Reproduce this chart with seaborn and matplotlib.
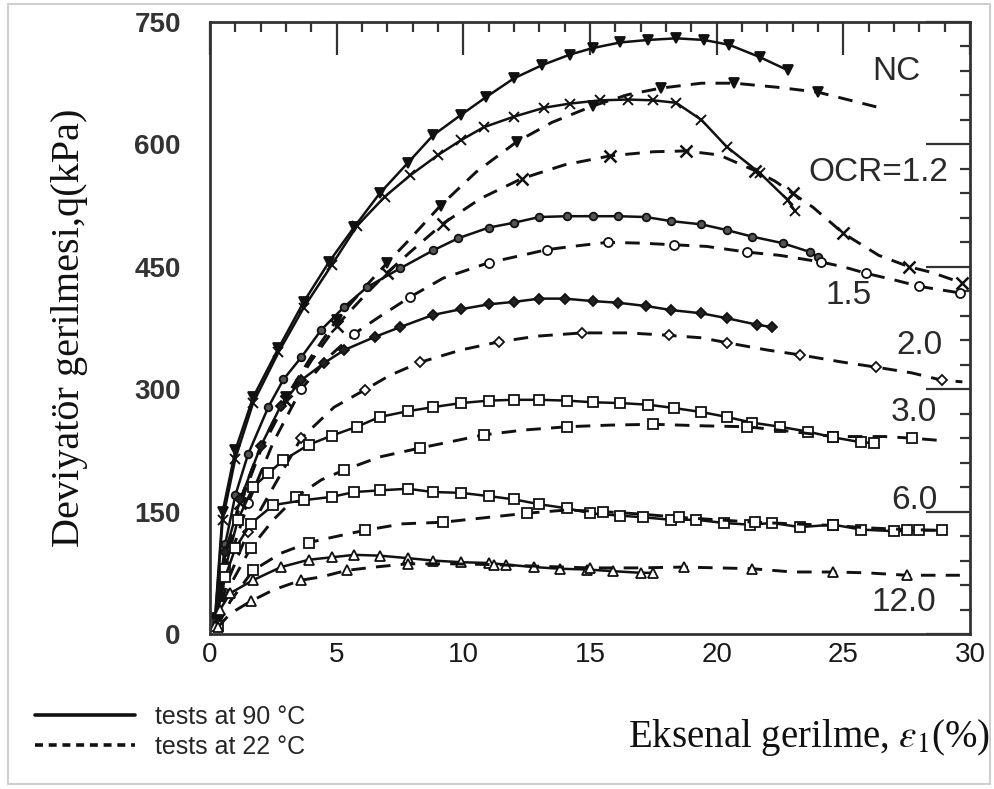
import matplotlib
matplotlib.use("Agg")
import matplotlib.pyplot as plt
from matplotlib.lines import Line2D
from matplotlib.patches import Rectangle
from matplotlib.ticker import MultipleLocator
import seaborn as sns
import pandas as pd

# ---- data: axial strain (%) and deviator stress q (kPa) ----
nc_90_strain = [0.2, 0.5, 1.0, 1.7, 2.7, 3.7, 4.7, 5.7, 6.7, 7.8, 8.8, 9.9, 10.9, 12.0, 13.1,
                14.2, 15.1, 16.2, 17.3, 18.4, 19.5, 20.5, 21.7, 22.8]
nc_90_q = [20, 150, 225, 290, 350, 407, 456, 499, 540, 577, 611, 636, 658, 681, 697,
           710, 718, 725, 728, 730, 728, 722, 707, 691]

nc_22_strain = [0.2, 0.6, 1.2, 2.0, 3.0, 4.0, 5.0, 6.2, 7.0, 7.8, 9.1, 10.5, 12.1, 13.5, 15.1,
                16.5, 17.8, 19.4, 20.7, 22.4, 24.0, 26.3]
nc_22_q = [15, 95, 165, 230, 290, 340, 385, 428, 455, 481, 525, 566, 603, 627, 647,
           661, 669, 675, 675, 670, 664, 646]

ocr12_90_strain = [0.2, 0.5, 1.0, 1.7, 2.7, 3.7, 4.8, 5.8, 6.9, 7.9, 9.0, 9.9, 10.8, 12.0, 13.2,
                   14.2, 15.4, 16.5, 17.5, 18.4, 19.4, 20.4, 21.7, 22.8, 23.1]
ocr12_90_q = [18, 140, 215, 283, 345, 400, 452, 500, 536, 562, 587, 605, 621, 634, 645,
              650, 654, 655, 654, 651, 630, 597, 565, 532, 518]

ocr12_22_strain = [0.2, 0.6, 1.2, 2.0, 3.0, 4.0, 5.0, 6.2, 7.0, 7.9, 9.2, 10.7, 12.3, 14.0, 15.8,
                   17.5, 18.8, 20.1, 21.5, 22.3, 23.0, 23.8, 25.0, 26.4, 27.6, 28.5, 29.7]
ocr12_22_q = [15, 90, 160, 225, 285, 335, 378, 418, 443, 468, 503, 534, 558, 575, 586,
              591, 592, 587, 568, 555, 540, 523, 491, 464, 450, 443, 430]

ocr15_90_strain = [0.2, 0.6, 1.0, 1.5, 2.3, 2.9, 3.6, 4.4, 5.3, 6.2, 7.5, 8.8, 9.8, 11.0, 12.0,
                   13.0, 14.1, 15.1, 16.1, 17.2, 18.2, 19.4, 20.4, 21.4, 22.6, 23.7, 24.0]
ocr15_90_q = [15, 110, 170, 220, 278, 312, 339, 373, 401, 425, 448, 470, 485, 498, 504,
              511, 512, 512, 512, 511, 506, 502, 495, 487, 479, 468, 462]

ocr15_22_strain = [0.2, 0.7, 1.5, 2.5, 3.6, 4.7, 5.7, 6.6, 7.9, 9.2, 11.0, 12.3, 13.3, 14.3, 15.7,
                   17.0, 18.3, 19.6, 21.2, 22.5, 24.1, 25.0, 25.9, 27.0, 28.0, 28.8, 29.6]
ocr15_22_q = [12, 85, 160, 235, 300, 340, 368, 387, 413, 436, 455, 464, 471, 475, 480,
              479, 477, 475, 468, 464, 456, 450, 442, 434, 426, 422, 418]

ocr20_90_strain = [0.2, 0.6, 1.2, 2.0, 2.8, 3.6, 4.5, 5.3, 6.5, 7.5, 8.8, 9.9, 11.0, 12.0, 13.0,
                   14.0, 15.1, 16.1, 17.2, 18.2, 19.4, 20.4, 21.6, 22.2]
ocr20_90_q = [15, 100, 165, 230, 280, 311, 332, 348, 364, 376, 391, 398, 404, 407, 411,
              411, 408, 406, 402, 397, 393, 387, 379, 376]

ocr20_22_strain = [0.2, 0.7, 1.5, 2.5, 3.6, 4.9, 6.1, 7.1, 8.3, 9.9, 11.4, 12.9, 14.7, 16.5, 18.1,
                   19.4, 20.4, 22.0, 23.3, 25.0, 26.3, 27.7, 28.9, 29.7]
ocr20_22_q = [10, 65, 125, 180, 240, 278, 299, 317, 333, 348, 358, 365, 369, 369, 366,
              363, 357, 348, 342, 333, 327, 320, 311, 309]

ocr30_90_strain = [0.2, 0.6, 1.1, 1.7, 2.3, 2.9, 3.9, 4.8, 5.8, 6.7, 7.8, 8.8, 9.9, 11.0, 12.0,
                   13.0, 14.1, 15.1, 16.2, 17.3, 18.3, 19.4, 20.4, 21.4, 22.5, 23.6, 24.6, 25.7, 26.2]
ocr30_90_q = [12, 80, 140, 180, 197, 213, 232, 243, 254, 266, 273, 278, 283, 286, 287,
              287, 286, 284, 283, 281, 277, 272, 266, 259, 254, 248, 241, 235, 234]

ocr30_22_strain = [0.2, 0.8, 1.6, 2.5, 3.4, 4.4, 5.3, 6.7, 8.3, 9.4, 10.8, 12.4, 14.1, 15.8, 17.5,
                   19.6, 21.2, 23.0, 24.6, 26.6, 27.7, 28.9]
ocr30_22_q = [10, 60, 105, 140, 168, 189, 201, 217, 228, 235, 244, 250, 254, 256, 257,
              255, 254, 248, 242, 242, 240, 237]

ocr60_90_strain = [0.2, 0.6, 1.0, 1.6, 2.5, 3.7, 4.8, 5.7, 6.7, 7.8, 8.8, 9.9, 11.0, 12.0, 13.0,
                   14.1, 15.0, 16.2, 17.1, 18.2, 19.2, 20.3, 21.3, 22.2, 23.3, 24.6, 25.7, 27.0, 28.0, 28.9]
ocr60_90_q = [12, 70, 105, 135, 158, 164, 168, 174, 176, 178, 174, 173, 169, 165, 159,
              154, 148, 145, 143, 140, 140, 136, 134, 136, 131, 134, 128, 126, 127, 127]

ocr60_22_strain = [0.3, 0.8, 1.7, 2.8, 3.9, 4.9, 6.1, 7.6, 9.2, 11.0, 12.5, 14.1, 15.5, 17.0, 18.5,
                   20.0, 21.5, 23.0, 24.6, 26.0, 27.5, 29.0]
ocr60_22_q = [10, 40, 78, 99, 112, 119, 127, 135, 137, 143, 148, 152, 150, 147, 143,
              140, 137, 135, 133, 130, 128, 127]

ocr120_90_strain = [0.2, 0.4, 0.8, 1.7, 2.8, 3.9, 4.8, 5.7, 6.7, 7.8, 8.8, 9.9, 11.0, 11.7, 12.8,
                    13.8, 14.9, 15.9, 17.0, 17.5]
ocr120_90_q = [10, 30, 50, 66, 82, 91, 94, 97, 96, 93, 90, 88, 87, 85, 82,
               80, 79, 77, 75, 75]

ocr120_22_strain = [0.3, 0.8, 1.6, 2.5, 3.6, 4.4, 5.4, 6.5, 7.8, 9.5, 11.2, 13.0, 15.0, 16.8, 18.7,
                    20.1, 21.4, 23.0, 24.6, 25.9, 27.5, 29.6]
ocr120_22_q = [8, 25, 40, 54, 66, 70, 78, 82, 86, 86, 85, 83, 81, 81, 82,
               81, 80, 76, 76, 75, 72, 72]

# curve labels written next to the right-hand ends
curve_labels = ["NC", "OCR=1.2", "1.5", "2.0", "3.0", "6.0", "12.0"]
label_strain = [27.1, 26.4, 25.2, 28.0, 27.8, 27.8, 27.4]
label_q = [689, 566, 415, 354, 271, 164, 39]

x_ticks = [0, 5, 10, 15, 20, 25, 30]
y_ticks = [0, 150, 300, 450, 600, 750]
x_tick_labels = ["0", "5", "10", "15", "20", "25", "30"]
y_tick_labels = ["0", "150", "300", "450", "600", "750"]
legend_labels = ["tests at 90 °C", "tests at 22 °C"]

# ---- build a long table ----
series = [
    ("NC", 90, nc_90_strain, nc_90_q), ("NC", 22, nc_22_strain, nc_22_q),
    ("1.2", 90, ocr12_90_strain, ocr12_90_q), ("1.2", 22, ocr12_22_strain, ocr12_22_q),
    ("1.5", 90, ocr15_90_strain, ocr15_90_q), ("1.5", 22, ocr15_22_strain, ocr15_22_q),
    ("2.0", 90, ocr20_90_strain, ocr20_90_q), ("2.0", 22, ocr20_22_strain, ocr20_22_q),
    ("3.0", 90, ocr30_90_strain, ocr30_90_q), ("3.0", 22, ocr30_22_strain, ocr30_22_q),
    ("6.0", 90, ocr60_90_strain, ocr60_90_q), ("6.0", 22, ocr60_22_strain, ocr60_22_q),
    ("12.0", 90, ocr120_90_strain, ocr120_90_q), ("12.0", 22, ocr120_22_strain, ocr120_22_q),
]
frames = [pd.DataFrame({"strain": s, "q": q, "ocr": o, "temp": t}) for o, t, s, q in series]
df = pd.concat(frames, ignore_index=True)

# marker style per (OCR, temperature)
marker_style = {
    ("NC", 90): dict(marker="v", markersize=7.5, markerfacecolor="#111111"),
    ("NC", 22): dict(marker="v", markersize=7.5, markerfacecolor="#111111"),
    ("1.2", 90): dict(marker="x", markersize=7, markeredgewidth=1.4),
    ("1.2", 22): dict(marker="x", markersize=8, markeredgewidth=1.8),
    ("1.5", 90): dict(marker="o", markersize=5.5, markerfacecolor="#555555"),
    ("1.5", 22): dict(marker="o", markersize=6.5, markerfacecolor="white"),
    ("2.0", 90): dict(marker="D", markersize=5, markerfacecolor="#222222"),
    ("2.0", 22): dict(marker="D", markersize=5.5, markerfacecolor="white"),
    ("3.0", 90): dict(marker="s", markersize=7, markerfacecolor="white"),
    ("3.0", 22): dict(marker="s", markersize=7.5, markerfacecolor="white"),
    ("6.0", 90): dict(marker="s", markersize=7, markerfacecolor="white"),
    ("6.0", 22): dict(marker="s", markersize=7, markerfacecolor="white"),
    ("12.0", 90): dict(marker="^", markersize=7, markerfacecolor="white"),
    ("12.0", 22): dict(marker="^", markersize=7.5, markerfacecolor="white"),
}

sns.set_style("white")
plt.rcParams["mathtext.fontset"] = "stix"

fig = plt.figure(figsize=(9.94, 7.89), dpi=100)
L, R, T, B = 210 / 994, 970 / 994, 22 / 789, 634 / 789
ax = fig.add_axes([L, 1 - B, R - L, B - T])

ink = "#111111"
for (ocr, temp), grp in df.groupby(["ocr", "temp"], sort=False):
    style = dict(marker_style[(ocr, temp)])
    style.setdefault("markeredgewidth", 1.3)
    if temp == 90:
        ls, lw, every = "-", 1.8, 1
    else:
        ls, lw, every = (0, (5, 3.5)), 2.1, 2
    sns.lineplot(data=grp, x="strain", y="q", ax=ax, color=ink, linestyle=ls,
                 linewidth=lw, markeredgecolor=ink, markevery=every,
                 estimator=None, sort=False, legend=False, **style)

for txt, xs, ys in zip(curve_labels, label_strain, label_q):
    ax.text(xs, ys, txt, ha="center", va="center", fontsize=24,
            family=["Liberation Sans", "DejaVu Sans"], color="#2a2a2a")

ax.set_xlim(0, 30)
ax.set_ylim(0, 750)
ax.set_xticks(x_ticks)
ax.set_yticks(y_ticks)
ax.xaxis.set_minor_locator(MultipleLocator(1))
ax.yaxis.set_minor_locator(MultipleLocator(30))
ax.set_xticklabels(x_tick_labels, fontsize=20,
                   family=["Liberation Sans Narrow", "Liberation Sans"], color="#1a1a1a")
ax.set_yticklabels(y_tick_labels, fontsize=20, fontweight="bold",
                   family=["Liberation Sans", "DejaVu Sans"], color="#333333")

ax.tick_params(which="both", direction="in", top=True, right=True, color="#333333", width=1.6)
ax.tick_params(axis="x", which="major", length=24, pad=6)
ax.tick_params(axis="y", which="major", length=32, pad=21)
ax.tick_params(which="minor", length=7)
for sp in ax.spines.values():
    sp.set_linewidth(2.0)
    sp.set_color("#333333")

ax.set_ylabel("Deviyatör gerilmesi,q(kPa)", fontsize=29,
              family=["Liberation Serif", "DejaVu Serif"], color="#111111")
ax.yaxis.set_label_coords(-0.16, 0.5)
ax.set_xlabel(r"Eksenal gerilme, $\varepsilon_1$(%)", fontsize=28,
              family=["Liberation Serif", "DejaVu Serif"], color="#111111")
ax.xaxis.set_label_coords(1.026, -0.135)
ax.xaxis.label.set_ha("right")

handles = [Line2D([], [], color=ink, lw=2.6),
           Line2D([], [], color=ink, lw=2.6, linestyle=(0, (2.2, 1.6)))]
fig.legend(handles, legend_labels, loc="upper left", bbox_to_anchor=(0.035, 0.107),
           frameon=False, handlelength=4.0, handletextpad=0.8,
           labelspacing=0.25, borderpad=0, borderaxespad=0,
           prop={"family": ["Liberation Sans Narrow", "Liberation Sans"], "size": 18})

fig.patches.append(Rectangle((8 / 994, 5 / 789), 982 / 994, 780 / 789, transform=fig.transFigure,
                             fill=False, edgecolor="#cfcfcf", linewidth=1.5))

fig.savefig("out.png", dpi=100)
